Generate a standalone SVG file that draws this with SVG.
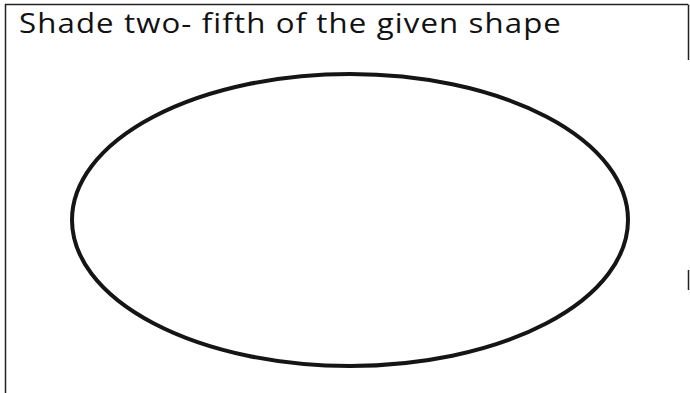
<svg xmlns="http://www.w3.org/2000/svg" width="690" height="393" viewBox="0 0 690 393">
<style>
.frame{stroke:#222;stroke-width:1.5;fill:none}
.title{font-family:"Open Sans","Liberation Sans",sans-serif;font-size:28px;font-weight:500;fill:#111;letter-spacing:1px}
.shape{fill:none;stroke:#151515;stroke-width:4}
</style>
<rect width="690" height="393" fill="#fff"/>
<g id="frame">
<path class="frame" d="M5.5,393 V4.5 H688"/>
<path class="frame" d="M688.5,4.5 V60 M688.5,270 V290" stroke-width="1"/>
</g>
<g id="title"><text class="title" x="19" y="33" textLength="543" lengthAdjust="spacingAndGlyphs">Shade two- fifth of the given shape</text></g>
<g id="ellipse"><ellipse class="shape" cx="350" cy="220" rx="278" ry="146"/></g>
</svg>
